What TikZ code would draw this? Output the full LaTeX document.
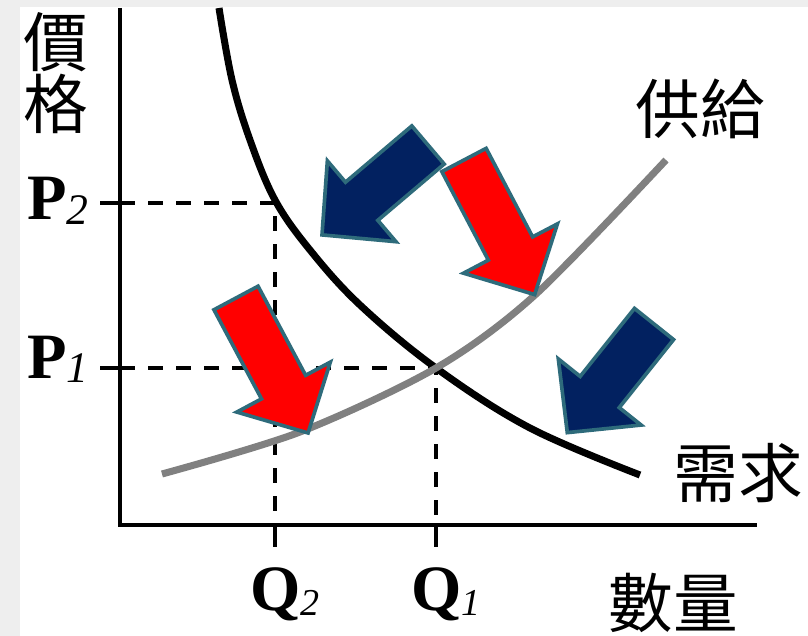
\documentclass[tikz,border=0pt]{standalone}
\usepackage{fontspec}
\setmainfont{Liberation Serif}
\newfontfamily\cjk{Noto Sans CJK TC}

\definecolor{ecoNavy}{HTML}{022160}
\definecolor{ecoRed}{HTML}{FF0000}
\definecolor{ecoEdge}{HTML}{2E6B7B}
\definecolor{ecoGray}{HTML}{808080}
\definecolor{ecoFrame}{HTML}{EEEEEE}

\tikzset{
  axisline/.style={line width=2.8pt},
  guide/.style={line width=2.2pt,dash pattern=on 0.37cm off 0.33cm},
  cjklabel/.style={font=\cjk\fontsize{46}{44}\selectfont,inner sep=0pt},
  pqlabel/.style={font=\fontsize{46}{46}\selectfont,inner sep=0pt,anchor=base west},
  shiftarrow/.style={draw=ecoEdge,line width=2.6pt,line join=miter},
}
% block arrow: tail centre, angle, length, fill
\newcommand{\blockarrow}[4]{%
  \filldraw[shiftarrow,fill=#4,shift={(#1)},rotate=#2]
    (0,25) -- (#3-52,25) -- (#3-52,53) -- (#3,0) -- (#3-52,-53) -- (#3-52,-25) -- (0,-25) -- cycle;}

\begin{document}
\begin{tikzpicture}[x=0.025cm,y=-0.025cm]
  \useasboundingbox (0,0) rectangle (808,636);
  \fill[ecoFrame] (0,0) rectangle (808,636);
  \fill[white] (20,7) rectangle (808,636);
  % axes
  \coordinate (ytop) at (120,8);
  \coordinate (origin) at (120,525);
  \coordinate (xend) at (757,525);
  \draw[axisline] (ytop) -- (origin) -- (xend);
  % equilibrium points
  \coordinate (eq1) at (436,368);
  \coordinate (eq2) at (275,203);
  \draw[guide] (eq2 -| origin) -- (eq2) -- (eq2 |- origin);
  \draw[guide] (eq1 -| origin) -- (eq1) -- (eq1 |- origin);
  \draw[axisline] (eq2 -| origin) -- ++(-20,0);
  \draw[axisline] (eq1 -| origin) -- ++(-20,0);
  \draw[axisline] (eq2 |- origin) -- ++(0,22);
  \draw[axisline] (eq1 |- origin) -- ++(0,22);
  % curves
  \draw[line width=5pt] plot[smooth,tension=0.6] coordinates {(219,8) (232,80) (250,140) (275,200) (310,250) (360,305) (436,368) (530,428) (640,475)};
  \draw[ecoGray,line width=5pt] plot[smooth] coordinates {(162,474) (300,432) (436,368) (535,295) (666,160)};
  % shifts
  \blockarrow{428,145}{220.3}{139}{ecoNavy}
  \blockarrow{464,160}{-62.3}{152}{ecoRed}
  \blockarrow{236,298}{-61.9}{153}{ecoRed}
  \blockarrow{654,324}{231.4}{139}{ecoNavy}
  % labels
  \node[cjklabel,align=center] (price) at (56,73) {價\\格};
  \node[cjklabel] (supply) at (700,109) {供給};
  \node[cjklabel] (demand) at (738,473) {需求};
  \node[cjklabel] (qty) at (673,603) {數量};
  \node[pqlabel] (p2) at (27,220) {\textbf{P}\raisebox{-3.5pt}{\itshape\fontsize{31}{31}\selectfont 2}};
  \node[pqlabel] (p1) at (27,378) {\textbf{P}\raisebox{-3.5pt}{\itshape\fontsize{31}{31}\selectfont 1}};
  \node[pqlabel] (q2) at (250,610) {\textbf{Q}\raisebox{-4pt}{\itshape\fontsize{27}{27}\selectfont 2}};
  \node[pqlabel] (q1) at (411,610) {\textbf{Q}\raisebox{-4pt}{\itshape\fontsize{27}{27}\selectfont 1}};
\end{tikzpicture}
\end{document}
